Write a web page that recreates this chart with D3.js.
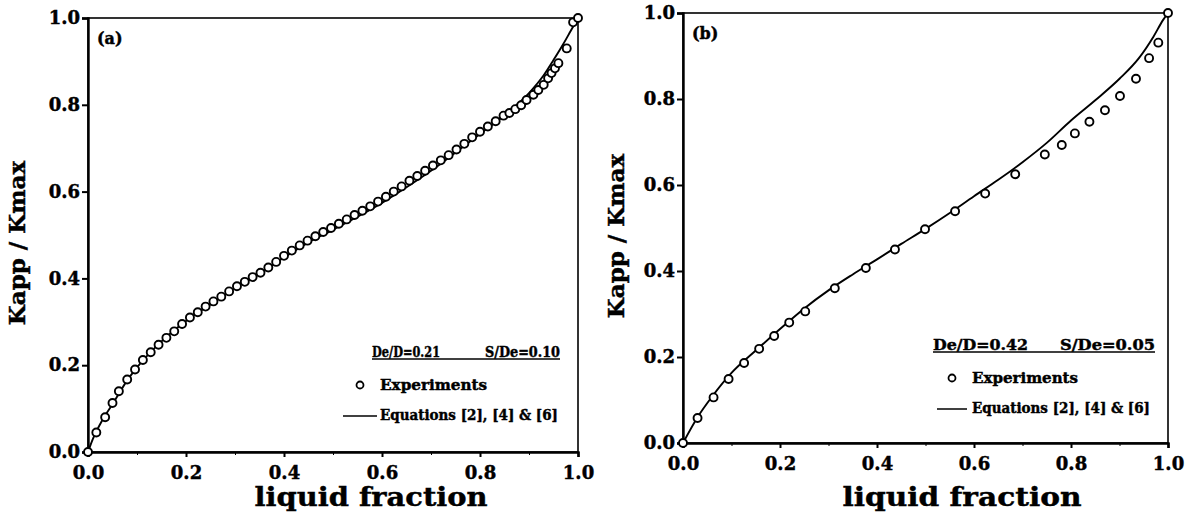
<!DOCTYPE html>
<html>
<head>
<meta charset="utf-8">
<script src="https://cdn.jsdelivr.net/npm/d3@7"></script>
<style>
  body { margin: 0; background: #fff; }
  svg { display: block; }
  text { font-family: "DejaVu Serif", "Liberation Serif", serif; font-weight: bold; fill: #000; stroke: #000; stroke-width: 0.45px; }
</style>
</head>
<body>
<div id="chart"></div>
<script>
// tick values
const majorTicks = [0, 0.2, 0.4, 0.6, 0.8, 1.0];
const minorTicks = [0.1, 0.3, 0.5, 0.7, 0.9];

// panel (a): experiments and model curve, [liquid fraction, Kapp/Kmax]
const expA = [[0.0,0.0],[0.017,0.045],[0.035,0.08],[0.05,0.113],[0.063,0.14],[0.08,0.167],[0.096,0.19],
  [0.112,0.212],[0.128,0.23],[0.144,0.247],[0.16,0.263],[0.176,0.278],[0.192,0.295],[0.208,0.31],
  [0.224,0.322],[0.24,0.335],[0.256,0.347],[0.272,0.358],[0.288,0.37],[0.304,0.382],[0.32,0.392],
  [0.336,0.403],[0.352,0.413],[0.368,0.425],[0.384,0.438],[0.4,0.452],[0.416,0.464],[0.432,0.476],
  [0.448,0.487],[0.464,0.497],[0.48,0.507],[0.496,0.516],[0.512,0.526],[0.528,0.536],[0.544,0.546],
  [0.56,0.556],[0.576,0.566],[0.592,0.577],[0.608,0.588],[0.624,0.6],[0.64,0.612],[0.656,0.625],
  [0.672,0.636],[0.688,0.648],[0.704,0.66],[0.72,0.672],[0.736,0.684],[0.752,0.697],[0.768,0.71],
  [0.784,0.725],[0.8,0.738],[0.816,0.75],[0.832,0.762],[0.848,0.775],[0.86,0.781],[0.872,0.79],
  [0.884,0.799],[0.895,0.811],[0.909,0.823],[0.919,0.834],[0.93,0.846],[0.939,0.861],[0.946,0.873],
  [0.953,0.884],[0.96,0.896],[0.977,0.93],[0.99,0.99],[1.0,1.0]];
const eqA = [[0,0],[0.01,0.03],[0.03,0.075],[0.05,0.11],[0.08,0.165],[0.1,0.195],[0.15,0.255],
  [0.2,0.302],[0.25,0.34],[0.3,0.378],[0.35,0.41],[0.4,0.448],[0.45,0.483],[0.5,0.512],[0.55,0.542],
  [0.6,0.574],[0.65,0.61],[0.7,0.648],[0.75,0.69],[0.8,0.733],[0.85,0.776],[0.9,0.827],[0.93,0.868],
  [0.95,0.903],[0.97,0.94],[0.985,0.97],[1.0,1.0]];

// panel (b)
const expB = [[0,0],[0.03,0.058],[0.063,0.106],[0.094,0.149],[0.126,0.186],[0.157,0.219],[0.188,0.249],
  [0.219,0.28],[0.252,0.306],[0.313,0.36],[0.377,0.407],[0.437,0.45],[0.499,0.497],[0.561,0.539],
  [0.623,0.58],[0.685,0.625],[0.746,0.671],[0.781,0.693],[0.808,0.72],[0.838,0.747],[0.87,0.774],
  [0.901,0.807],[0.934,0.847],[0.961,0.895],[0.98,0.931],[1.0,1.0]];
const eqB = [[0,0],[0.03,0.06],[0.06,0.108],[0.1,0.163],[0.15,0.215],[0.2,0.265],[0.25,0.313],
  [0.3,0.355],[0.35,0.392],[0.4,0.427],[0.45,0.463],[0.5,0.498],[0.55,0.535],[0.6,0.574],[0.65,0.612],
  [0.7,0.653],[0.75,0.698],[0.8,0.75],[0.85,0.797],[0.9,0.847],[0.94,0.895],[0.97,0.945],[0.99,0.984],
  [1.0,1.0]];

const panelLabels = ["(a)", "(b)"];
const paramLeft = ["De/D=0.21", "De/D=0.42"];
const paramRight = ["S/De=0.10", "S/De=0.05"];
const legendExp = "Experiments";
const legendEq = "Equations [2], [4] & [6]";

const svg = d3.select("#chart").append("svg")
  .attr("width", 1198).attr("height", 514);

function drawPanel(p) {
  const x = d3.scaleLinear().domain([0, 1]).range([p.x0, p.x1]);
  const y = d3.scaleLinear().domain([0, 1]).range([p.y0, p.y1]);
  const g = svg.append("g");

  // frame
  g.append("rect")
    .attr("x", p.x0).attr("y", p.y1)
    .attr("width", p.x1 - p.x0).attr("height", p.y0 - p.y1)
    .attr("fill", "none").attr("stroke", "#000").attr("stroke-width", 1.6);

  const yAxis = g.append("g")
    .attr("transform", `translate(${p.x0},0)`)
    .call(d3.axisLeft(y).tickValues(majorTicks).tickSize(6).tickPadding(2).tickFormat(d3.format(".1f")));
  const xAxis = g.append("g")
    .attr("transform", `translate(0,${p.y0})`)
    .call(d3.axisBottom(x).tickValues(majorTicks).tickSize(5).tickPadding(9).tickFormat(d3.format(".1f")));
  g.append("g")
    .attr("transform", `translate(0,${p.y0})`)
    .call(d3.axisBottom(x).tickValues(minorTicks).tickSize(3).tickFormat(""))
    .select(".domain").remove();
  [xAxis, yAxis].forEach(a => {
    a.select(".domain").attr("stroke-width", 2.4);
    a.selectAll(".tick line").attr("stroke-width", 2);
    a.selectAll("text").style("font-size", "18px")
      .style("font-family", '"DejaVu Serif", serif').style("font-weight", "bold");
  });

  // model curve
  const line = d3.line().x(d => x(d[0])).y(d => y(d[1])).curve(d3.curveMonotoneX);
  g.append("path").datum(p.eq)
    .attr("d", line).attr("fill", "none")
    .attr("stroke", "#000").attr("stroke-width", 1.9);

  // experiments
  g.selectAll("circle.exp").data(p.exp).enter().append("circle")
    .attr("class", "exp")
    .attr("cx", d => x(d[0])).attr("cy", d => y(d[1]))
    .attr("r", 4).attr("fill", "#fff")
    .attr("stroke", "#000").attr("stroke-width", 1.9);

  // labels
  g.append("text").attr("x", p.x0 + 9).attr("y", p.y1 + 26)
    .style("font-size", "16px").text(p.label);
  g.append("text").attr("x", p.xTitleX).attr("y", 506)
    .attr("text-anchor", "middle").style("font-size", "26px")
    .attr("textLength", p.xTitleW).attr("lengthAdjust", "spacingAndGlyphs").text("liquid fraction");
  g.append("text")
    .attr("transform", `translate(${p.yTitleX},${p.yTitleY}) rotate(-90)`)
    .attr("text-anchor", "middle").style("font-size", "23px").text("Kapp / Kmax");

  // legend
  const L = p.legend;
  g.append("text").attr("x", L.x).attr("y", L.y).style("font-size", "15px")
    .attr("textLength", L.wl).attr("lengthAdjust", "spacingAndGlyphs").text(p.pLeft);
  g.append("text").attr("x", L.xEnd - L.wr).attr("y", L.y)
    .style("font-size", "15px")
    .attr("textLength", L.wr).attr("lengthAdjust", "spacingAndGlyphs").text(p.pRight);
  g.append("line").attr("x1", L.x).attr("x2", L.xEnd)
    .attr("y1", L.y + 2).attr("y2", L.y + 2)
    .attr("stroke", "#000").attr("stroke-width", 1.6);
  g.append("circle").attr("cx", L.cx).attr("cy", L.y + 28)
    .attr("r", 3.5).attr("fill", "#fff").attr("stroke", "#000").attr("stroke-width", 1.8);
  g.append("text").attr("x", L.tx).attr("y", L.y + 33)
    .style("font-size", "15px")
    .attr("textLength", L.we).attr("lengthAdjust", "spacingAndGlyphs").text(legendExp);
  g.append("line").attr("x1", L.lx0).attr("x2", L.lx1)
    .attr("y1", L.y + 59).attr("y2", L.y + 59)
    .attr("stroke", "#000").attr("stroke-width", 1.5);
  g.append("text").attr("x", L.tx).attr("y", L.y + 63)
    .style("font-size", "15px")
    .attr("textLength", L.wq).attr("lengthAdjust", "spacingAndGlyphs").text(legendEq);
}

drawPanel({
  x0: 88, x1: 578, y0: 452, y1: 18,
  exp: expA, eq: eqA, label: panelLabels[0],
  pLeft: paramLeft[0], pRight: paramRight[0],
  xTitleX: 371, xTitleW: 233, yTitleX: 25, yTitleY: 243,
  legend: { x: 372, xEnd: 560, y: 357, wl: 68, wr: 75, cx: 360, tx: 380, we: 107, wq: 178, lx0: 343, lx1: 377 }
});
drawPanel({
  x0: 683, x1: 1168, y0: 443, y1: 13,
  exp: expB, eq: eqB, label: panelLabels[1],
  pLeft: paramLeft[1], pRight: paramRight[1],
  xTitleX: 962, xTitleW: 239, yTitleX: 624, yTitleY: 236,
  legend: { x: 933, xEnd: 1155, y: 350, wl: 95, wr: 95, cx: 952, tx: 972, we: 106, wq: 178, lx0: 937, lx1: 967 }
});
</script>
</body>
</html>
